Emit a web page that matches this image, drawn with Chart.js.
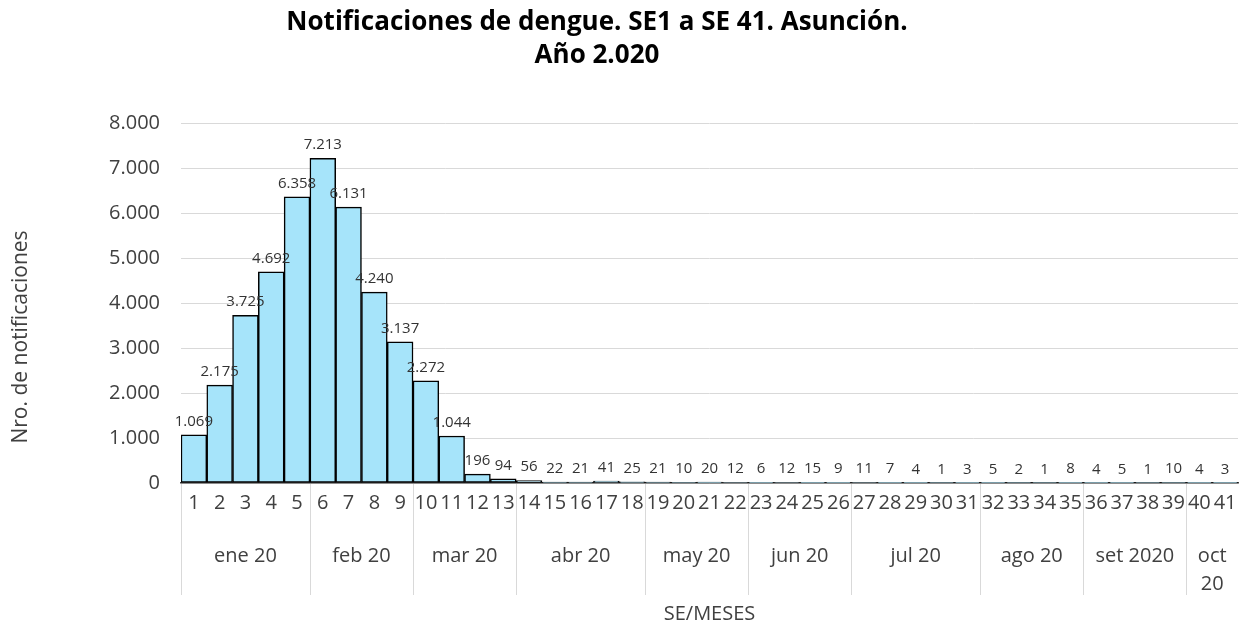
<!DOCTYPE html>
<html>
<head>
<meta charset="utf-8">
<script src="https://cdn.jsdelivr.net/npm/chart.js@4.4.1/dist/chart.umd.min.js"></script>
<style>
  html, body { margin: 0; padding: 0; background: #fff; }
</style>
</head>
<body>
<canvas id="myChart" width="1245" height="626"></canvas>
<script>
const weeks = ['1','2','3','4','5','6','7','8','9','10','11','12','13','14','15','16','17','18','19','20',
               '21','22','23','24','25','26','27','28','29','30','31','32','33','34','35','36','37','38','39','40','41'];
const cases = [1069, 2175, 3725, 4692, 6358, 7213, 6131, 4240, 3137, 2272, 1044, 196, 94, 56, 22, 21, 41, 25,
               21, 10, 20, 12, 6, 12, 15, 9, 11, 7, 4, 1, 3, 5, 2, 1, 8, 4, 5, 1, 10, 4, 3];
const months = ['ene 20', 'feb 20', 'mar 20', 'abr 20', 'may 20', 'jun 20', 'jul 20', 'ago 20', 'set 2020', ['oct', '20']];
const monthWeeks = [5, 4, 4, 5, 4, 4, 5, 4, 4, 2];
const titleLines = ['Notificaciones de dengue. SE1 a SE 41. Asunción.', 'Año 2.020'];

const ctx = document.getElementById('myChart');
Chart.defaults.font.family = '"Open Sans", "Noto Sans", sans-serif';

// 1069 -> "1.069"
function fmt(n) {
    return String(n).replace(/\B(?=(\d{3})+(?!\d))/g, '.');
}

// labels on bars, month groups under the week numbers, titles
const extras = {
    id: 'extras',
    afterDraw(chart) {
        const { ctx, chartArea, scales: { x } } = chart;
        const meta = chart.getDatasetMeta(0);
        ctx.save();
        ctx.textAlign = 'center';

        ctx.font = '15px "Open Sans"';
        ctx.fillStyle = '#333';
        ctx.textBaseline = 'bottom';
        meta.data.forEach((bar, i) => ctx.fillText(fmt(cases[i]), bar.x, bar.y - 6));

        const half = (x.getPixelForValue(1) - x.getPixelForValue(0)) / 2;
        let start = 0;
        ctx.strokeStyle = '#d9d9d9';
        ctx.lineWidth = 1;
        ctx.font = '20px "Open Sans"';
        ctx.fillStyle = '#404040';
        ctx.textBaseline = 'middle';
        monthWeeks.forEach((n, k) => {
            const left = x.getPixelForValue(start) - half;
            const right = x.getPixelForValue(start + n - 1) + half;
            const lx = Math.round(left) + 0.5;
            ctx.beginPath();
            ctx.moveTo(lx, chartArea.bottom + 1);
            ctx.lineTo(lx, chartArea.bottom + 112);
            ctx.stroke();
            [].concat(months[k]).forEach((t, j) => ctx.fillText(t, (left + right) / 2, chartArea.bottom + 73 + j * 28));
            start += n;
        });

        // y axis title
        ctx.save();
        ctx.translate(21, 337);
        ctx.rotate(-Math.PI / 2);
        ctx.font = '21px "Open Sans"';
        ctx.fillText('Nro. de notificaciones', 0, 0);
        ctx.restore();

        ctx.fillStyle = '#000';
        ctx.font = 'bold 26px "Open Sans"';
        titleLines.forEach((t, j) => ctx.fillText(t, 597, 23 + j * 33));
        ctx.restore();
    }
};

const chartData = {
    labels: weeks,
    datasets: [{
        label: 'Notificaciones',
        data: cases,
        backgroundColor: '#a6e4fa',
        borderColor: '#000',
        borderWidth: 1.5,
        borderSkipped: false,
        barPercentage: 1,
        categoryPercentage: 1
    }]
};

new Chart(ctx, {
    type: 'bar',
    data: chartData,
    plugins: [extras],
    options: {
        responsive: false,
        animation: false,
        layout: { padding: { left: 10, right: 7, top: 123, bottom: 0 } },
        plugins: {
            legend: { display: false },
            tooltip: { enabled: false }
        },
        scales: {
            x: {
                grid: { display: false, drawTicks: false },
                border: { color: '#404040', width: 1.5 },
                ticks: { color: '#404040', font: { size: 20 }, autoSkip: false, maxRotation: 0, padding: 8 },
                title: { display: true, text: 'SE/MESES', color: '#404040', font: { size: 20 }, padding: 0 },
                afterFit: s => { s.height = 143; }
            },
            y: {
                min: 0,
                max: 8000,
                grid: { color: '#d9d9d9', drawTicks: false },
                border: { display: false },
                ticks: { stepSize: 1000, color: '#404040', font: { size: 20 }, padding: 21, callback: v => fmt(v) },
                afterFit: s => { s.width = 171; }
            }
        }
    }
});
</script>
</body>
</html>
